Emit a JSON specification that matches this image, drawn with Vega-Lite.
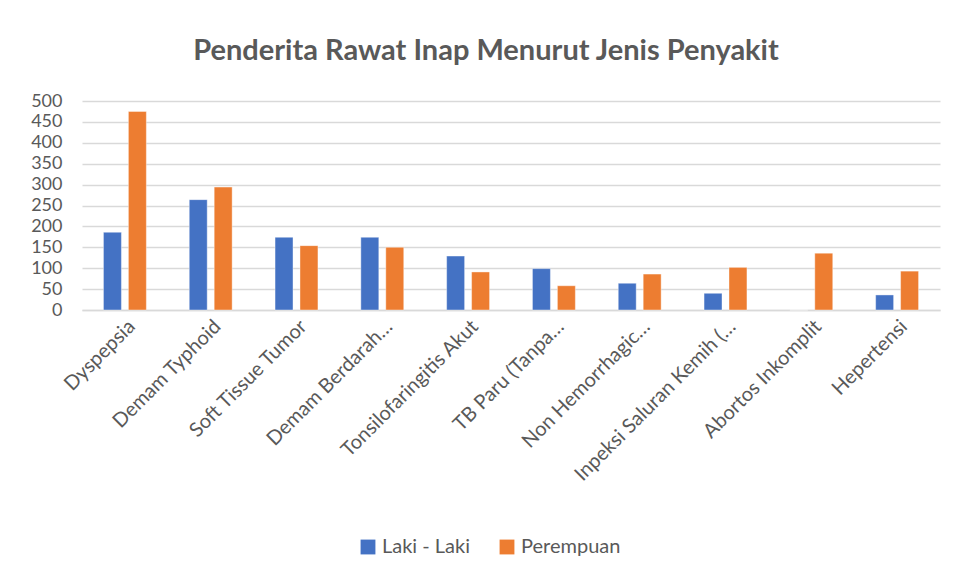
{
  "$schema": "https://vega.github.io/schema/vega-lite/v6.json",
  "autosize": "none",
  "width": 858,
  "height": 209,
  "padding": {"left": 82, "top": 101, "right": 23, "bottom": 268},
  "background": "white",
  "title": {
    "text": "Penderita Rawat Inap Menurut Jenis Penyakit",
    "font": "Lato",
    "fontSize": 29,
    "fontWeight": "bold",
    "color": "#595959",
    "anchor": "middle",
    "dx": -25,
    "offset": 26
  },
  "data": {
    "values": [
      {"penyakit": "Dyspepsia", "gender": "Laki - Laki", "jumlah": 186},
      {"penyakit": "Dyspepsia", "gender": "Perempuan", "jumlah": 475},
      {"penyakit": "Demam Typhoid", "gender": "Laki - Laki", "jumlah": 264},
      {"penyakit": "Demam Typhoid", "gender": "Perempuan", "jumlah": 294},
      {"penyakit": "Soft Tissue Tumor", "gender": "Laki - Laki", "jumlah": 174},
      {"penyakit": "Soft Tissue Tumor", "gender": "Perempuan", "jumlah": 154},
      {"penyakit": "Demam Berdarah…", "gender": "Laki - Laki", "jumlah": 174},
      {"penyakit": "Demam Berdarah…", "gender": "Perempuan", "jumlah": 150},
      {"penyakit": "Tonsilofaringitis Akut", "gender": "Laki - Laki", "jumlah": 129},
      {"penyakit": "Tonsilofaringitis Akut", "gender": "Perempuan", "jumlah": 91},
      {"penyakit": "TB Paru (Tanpa…", "gender": "Laki - Laki", "jumlah": 99},
      {"penyakit": "TB Paru (Tanpa…", "gender": "Perempuan", "jumlah": 58},
      {"penyakit": "Non Hemorrhagic…", "gender": "Laki - Laki", "jumlah": 64},
      {"penyakit": "Non Hemorrhagic…", "gender": "Perempuan", "jumlah": 86},
      {"penyakit": "Inpeksi Saluran Kemih (…", "gender": "Laki - Laki", "jumlah": 40},
      {"penyakit": "Inpeksi Saluran Kemih (…", "gender": "Perempuan", "jumlah": 102},
      {"penyakit": "Abortos Inkomplit", "gender": "Laki - Laki", "jumlah": 0},
      {"penyakit": "Abortos Inkomplit", "gender": "Perempuan", "jumlah": 136},
      {"penyakit": "Hepertensi", "gender": "Laki - Laki", "jumlah": 36},
      {"penyakit": "Hepertensi", "gender": "Perempuan", "jumlah": 93}
    ]
  },
  "mark": {"type": "bar", "stroke": "white", "strokeOpacity": 0.4, "strokeWidth": 1},
  "encoding": {
    "x": {
      "field": "penyakit",
      "type": "nominal",
      "sort": null,
      "title": null,
      "scale": {"paddingInner": 0.5, "paddingOuter": 0.25},
      "axis": {
        "labelAngle": -45,
        "labelFont": "Lato",
        "labelFontSize": 20,
        "labelColor": "#595959",
        "labelLimit": 300,
        "labelPadding": 6,
        "ticks": false,
        "domainColor": "#d9d9d9",
        "domainWidth": 1.5,
        "grid": false
      }
    },
    "xOffset": {"field": "gender", "type": "nominal", "scale": {"paddingInner": 0.28}},
    "y": {
      "field": "jumlah",
      "type": "quantitative",
      "title": null,
      "scale": {"domain": [0, 500]},
      "axis": {
        "values": [0, 50, 100, 150, 200, 250, 300, 350, 400, 450, 500],
        "labelFont": "Lato",
        "labelFontSize": 18,
        "labelColor": "#595959",
        "labelPadding": 20,
        "labelOverlap": false,
        "labelFlush": false,
        "ticks": false,
        "domain": false,
        "gridColor": "#d9d9d9",
        "gridWidth": 1.5
      }
    },
    "color": {
      "field": "gender",
      "type": "nominal",
      "title": null,
      "scale": {"domain": ["Laki - Laki", "Perempuan"], "range": ["#4472C4", "#ED7D31"]},
      "legend": {
        "orient": "none",
        "legendX": 276,
        "legendY": 436,
        "direction": "horizontal",
        "symbolType": "square",
        "symbolSize": 220,
        "symbolStrokeWidth": 0,
        "labelFont": "Lato",
        "labelFontSize": 20,
        "labelColor": "#595959",
        "columnPadding": 26
      }
    }
  },
  "config": {"view": {"stroke": null}}
}
